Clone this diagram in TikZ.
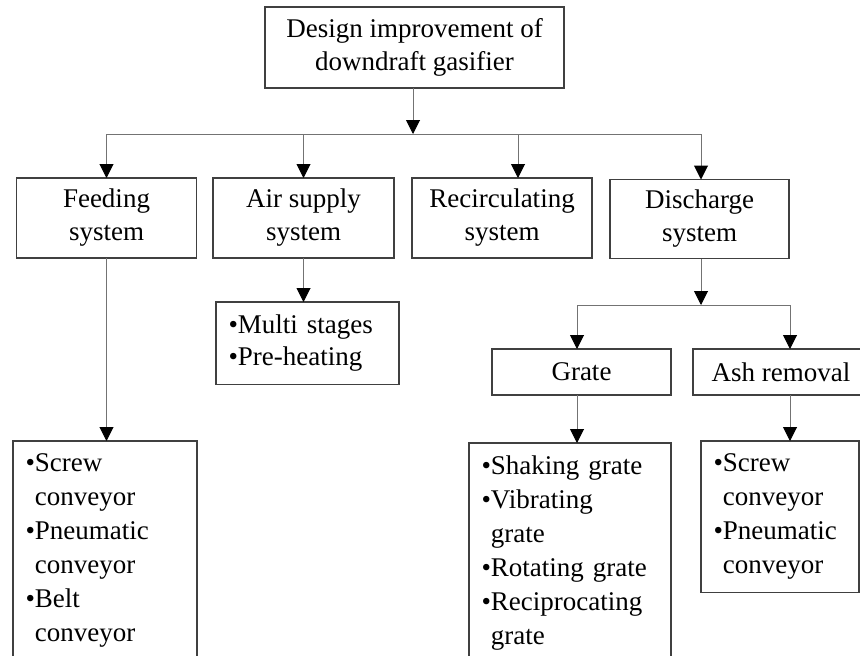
\documentclass[tikz,border=0pt]{standalone}
\usepackage{fontspec}
\setmainfont{Liberation Serif}
\usetikzlibrary{arrows.meta}
\newcommand{\hang}{\hphantom{\textbullet}}

\begin{document}
\begin{tikzpicture}[x=1pt,y=-1pt,>={Triangle[width=14pt,length=14pt,color=black]},font=\fontsize{27}{33}\selectfont,
        blk/.style={draw=black!75, line width=1.3pt, inner sep=0pt, outer sep=0pt, align=center},
        lst/.style={draw=black!75, line width=1.3pt, inner xsep=12.5pt, inner ysep=13pt, outer sep=0pt, align=left, anchor=north west, font=\fontsize{27}{34}\selectfont},
        link/.style={draw=black!55, line width=1pt}]
        \useasboundingbox (0,0) rectangle (860,656);
        \clip (0,0) rectangle (860,656);
        \node [blk, minimum width=299pt, minimum height=81pt] at (414.5,47.5) (top) {Design improvement of\\downdraft gasifier};
        \node [blk, minimum width=180pt, minimum height=80pt] at (106.5,218) (feed) {Feeding\\system};
        \node [blk, minimum width=181pt, minimum height=80pt] at (303.5,218) (air) {Air supply\\system};
        \node [blk, minimum width=180pt, minimum height=80pt] at (502,218) (recirc) {Recirculating\\system};
        \node [blk, minimum width=179pt, minimum height=79pt] at (699.5,219) (disch) {Discharge\\system};
        \node [lst, text width=158pt, minimum height=80pt, font=\fontsize{27}{32}\selectfont] at (216,302) (airlist) {\textbullet Multi stages\\\textbullet Pre-heating};
        \node [lst, text width=159pt, text depth=210pt] at (13,441) (feedlist) {\textbullet Screw\\\hang conveyor\\\textbullet Pneumatic\\\hang conveyor\\\textbullet Belt\\\hang conveyor};
        \node [blk, minimum width=179pt, minimum height=46pt] at (581.5,372) (grate) {Grate};
        \node [blk, minimum width=176pt, minimum height=46pt] at (781,372) (ash) {Ash removal};
        \node [lst, text width=177pt, text depth=210pt] at (469,443) (grlist) {\textbullet Shaking grate\\\textbullet Vibrating\\\hang grate\\\textbullet Rotating grate\\\textbullet Reciprocating\\\hang grate};
        \node [lst, text width=133pt, minimum height=146pt] at (701,441) (ashlist) {\textbullet Screw\\\hang conveyor\\\textbullet Pneumatic\\\hang conveyor};
        \coordinate (bus) at (413,134);
        \coordinate (split) at (701,305);
        \draw [link,->] (top.south -| bus) -- (bus);
        \draw [link,->] (bus) -| (feed.north);
        \draw [link,->] (bus) -| (air.north);
        \draw [link,->] (bus) -| ([xshift=16pt]recirc.north);
        \draw [link,->] (bus) -| (disch.north -| split);
        \draw [link,->] (feed.south) -- (feed.south |- feedlist.north);
        \draw [link,->] (air.south) -- (air.south |- airlist.north);
        \draw [link,->] (disch.south -| split) -- (split);
        \draw [link,->] (split) -| ([xshift=-4.5pt]grate.north);
        \draw [link,->] (split) -| ([xshift=9pt]ash.north);
        \draw [link,->] ([xshift=-4.5pt]grate.south) -- ([xshift=-4.5pt]grate.south |- grlist.north);
        \draw [link,->] ([xshift=9pt]ash.south) -- ([xshift=9pt]ash.south |- ashlist.north);
\end{tikzpicture}
\end{document}
